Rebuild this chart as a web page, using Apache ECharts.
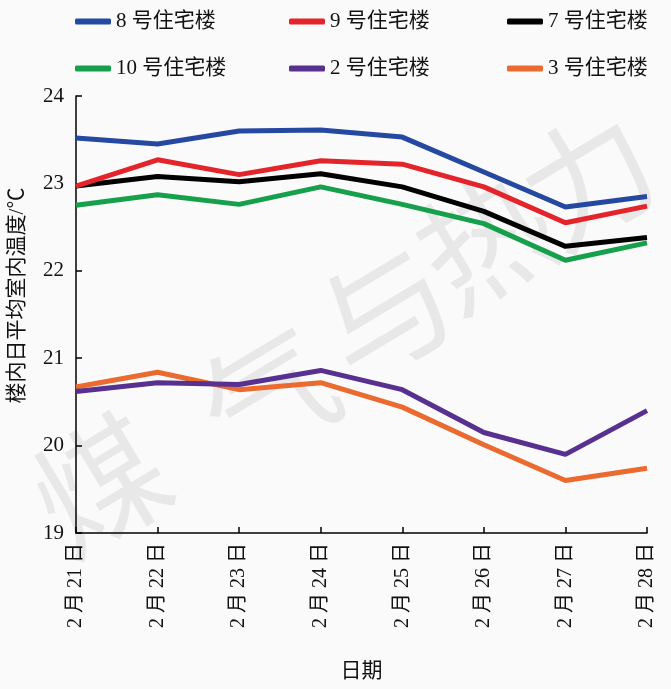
<!DOCTYPE html>
<html><head><meta charset="utf-8">
<script src="https://cdn.jsdelivr.net/npm/echarts@6/dist/echarts.min.js"></script>
<style>html,body{margin:0;padding:0;background:#fafafa}#c{width:671px;height:689px}</style>
</head><body><div id="c"></div>
<script>
const categories = ['2 月 21 日','2 月 22 日','2 月 23 日','2 月 24 日','2 月 25 日','2 月 26 日','2 月 27 日','2 月 28 日'];
const b8  = [23.52, 23.45, 23.60, 23.61, 23.53, 23.13, 22.73, 22.85];
const b9  = [22.97, 23.27, 23.10, 23.26, 23.22, 22.96, 22.55, 22.74];
const b7  = [22.97, 23.08, 23.02, 23.11, 22.96, 22.68, 22.28, 22.38];
const b10 = [22.75, 22.87, 22.76, 22.96, 22.76, 22.54, 22.12, 22.32];
const b2  = [20.62, 20.72, 20.70, 20.86, 20.64, 20.15, 19.90, 20.40];
const b3  = [20.67, 20.84, 20.64, 20.72, 20.44, 20.01, 19.60, 19.74];
const names = ['8 号住宅楼','9 号住宅楼','7 号住宅楼','10 号住宅楼','2 号住宅楼','3 号住宅楼'];
const yTicks = [19, 20, 21, 22, 23, 24];

const colors = ['#2548a0','#e4242b','#000000','#16a04b','#58308f','#eb6a2f'];
const dataArr = [b8, b9, b7, b10, b2, b3];
const font = '"Liberation Serif", "Noto Sans CJK SC", serif';
const legendBase = {
  orient: 'vertical', top: 6, itemGap: 26, itemWidth: 36, itemHeight: 6, icon: 'roundRect',
  textStyle: {fontFamily: font, fontSize: 21, color: '#111'}, selectedMode: false
};
const wm = ['煤','气','与','热','力'];
const wmPos = [[100,485],[268,395],[385,312],[485,240],[588,178]];
const chart = echarts.init(document.getElementById('c'));
chart.setOption({
  backgroundColor: '#fafafa',
  animation: false,
  graphic: wm.map((t, i) => ({
    type: 'text', x: wmPos[i][0], y: wmPos[i][1], rotation: 31 * Math.PI / 180, z: 0,
    style: {text: t, fontSize: 130, fontFamily: '"Noto Sans CJK SC"', fill: 'rgba(0,0,0,0.07)', align: 'center', verticalAlign: 'middle'}
  })),
  legend: [
    Object.assign({}, legendBase, {left: 70, data: [names[0], names[3]]}),
    Object.assign({}, legendBase, {left: 284, data: [names[1], names[4]]}),
    Object.assign({}, legendBase, {left: 502, data: [names[2], names[5]]})
  ],
  grid: {left: 76, right: 24, top: 96, bottom: 156, containLabel: false, outerBoundsMode: 'none'},
  xAxis: {
    type: 'category', data: categories, boundaryGap: false,
    name: '日期', nameLocation: 'middle', nameGap: 128,
    nameTextStyle: {fontFamily: font, fontSize: 21, color: '#111'},
    axisLine: {lineStyle: {color: '#000', width: 1.5}},
    axisTick: {inside: true, length: 6, alignWithLabel: true, lineStyle: {color: '#000', width: 1.5}},
    axisLabel: {rotate: 90, interval: 0, margin: 10, fontFamily: font, fontSize: 20, color: '#111'},
    splitLine: {show: false}
  },
  yAxis: {
    type: 'value', min: 19, max: 24, interval: 1,
    name: '楼内日平均室内温度/℃', nameLocation: 'middle', nameGap: 48,
    nameTextStyle: {fontFamily: font, fontSize: 21, color: '#111', padding: [0, 0, 0, 38]},
    axisLine: {show: true, lineStyle: {color: '#000', width: 1.5}},
    axisTick: {show: true, inside: true, length: 6, lineStyle: {color: '#000', width: 1.5}},
    axisLabel: {margin: 12, fontFamily: font, fontSize: 21, color: '#111',
      formatter: v => yTicks.includes(v) ? String(v) : ''},
    splitLine: {show: false}
  },
  series: names.map((n, i) => ({
    name: n, type: 'line', data: dataArr[i], symbol: 'none', z: 3 + (5 - i),
    lineStyle: {color: colors[i], width: 5}, itemStyle: {color: colors[i]}
  }))
});
</script></body></html>
